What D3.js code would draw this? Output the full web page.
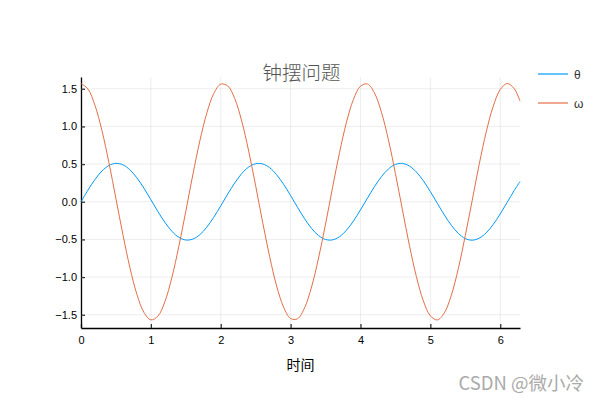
<!DOCTYPE html>
<html>
<head>
<meta charset="utf-8">
<script src="https://cdn.jsdelivr.net/npm/d3@7"></script>
<style>
  body { margin: 0; background: #fff; }
  .viz text { font-family: "Liberation Sans", "DejaVu Sans", sans-serif; }
</style>
</head>
<body>
<div class="viz"></div>
<script>
// time samples (s)
var time = [0, 0.1, 0.2, 0.3, 0.4, 0.5, 0.6, 0.7, 0.8, 0.9,
  1.0, 1.1, 1.2, 1.3, 1.4, 1.5, 1.6, 1.7, 1.8, 1.9,
  2.0, 2.1, 2.2, 2.3, 2.4, 2.5, 2.6, 2.7, 2.8, 2.9,
  3.0, 3.1, 3.2, 3.3, 3.4, 3.5, 3.6, 3.7, 3.8, 3.9,
  4.0, 4.1, 4.2, 4.3, 4.4, 4.5, 4.6, 4.7, 4.8, 4.9,
  5.0, 5.1, 5.2, 5.3, 5.4, 5.5, 5.6, 5.7, 5.8, 5.9,
  6.0, 6.1, 6.2, 6.283];

// angle θ
var theta = [0, 0.155, 0.295, 0.408, 0.481, 0.510, 0.490, 0.424, 0.317, 0.181,
  0.027, -0.129, -0.272, -0.391, -0.472, -0.508, -0.496, -0.438, -0.338, -0.206,
  -0.055, 0.102, 0.249, 0.373, 0.461, 0.505, 0.502, 0.452, 0.358, 0.231,
  0.082, -0.075, -0.225, -0.354, -0.449, -0.501, -0.506, -0.464, -0.377, -0.255,
  -0.108, 0.048, 0.200, 0.333, 0.435, 0.495, 0.509, 0.474, 0.395, 0.278,
  0.135, -0.021, -0.175, -0.312, -0.420, -0.489, -0.510, -0.483, -0.412, -0.301,
  -0.161, -0.007, 0.149, 0.268];

// angular velocity ω
var omega = [1.570, 1.496, 1.280, 0.943, 0.518, 0.042, -0.437, -0.874, -1.229, -1.468,
  -1.568, -1.519, -1.328, -1.008, -0.594, -0.127, 0.356, 0.804, 1.175, 1.436,
  1.561, 1.538, 1.370, 1.072, 0.672, 0.210, -0.273, -0.729, -1.118, -1.400,
  -1.550, -1.553, -1.408, -1.131, -0.747, -0.297, 0.188, 0.652, 1.057, 1.360,
  1.534, 1.563, 1.444, 1.188, 0.821, 0.375, -0.106, -0.578, -0.993, -1.316,
  -1.514, -1.569, -1.475, -1.242, -0.889, -0.448, 0.022, 0.502, 0.927, 1.268,
  1.489, 1.570, 1.502, 1.336];

var xTicks = [0, 1, 2, 3, 4, 5, 6];
var yTicks = [-1.5, -1.0, -0.5, 0.0, 0.5, 1.0, 1.5];
var seriesNames = ["θ", "ω"];
var seriesColors = ["#009af9", "#e26f46"];

var W = 600, H = 400;
var margin = {top: 77, right: 80, bottom: 72, left: 81},
    width = W - margin.left - margin.right,
    height = H - margin.top - margin.bottom;

var x = d3.scaleLinear().domain([0, 6.283]).range([0, width]);
var y = d3.scaleLinear().domain([-1.676, 1.656]).range([height, 0]);

var root = d3.select(".viz").append("svg")
    .attr("width", W)
    .attr("height", H);

var svg = root.append("g")
    .attr("transform", "translate(" + margin.left + "," + margin.top + ")");

// grid
svg.append("g").selectAll("line")
    .data(xTicks)
    .enter().append("line")
    .attr("x1", function(d) { return x(d); })
    .attr("x2", function(d) { return x(d); })
    .attr("y1", 0).attr("y2", height)
    .attr("stroke", "#000").attr("stroke-opacity", 0.07).attr("stroke-width", 1);

svg.append("g").selectAll("line")
    .data(yTicks)
    .enter().append("line")
    .attr("y1", function(d) { return y(d); })
    .attr("y2", function(d) { return y(d); })
    .attr("x1", 0).attr("x2", width)
    .attr("stroke", "#000").attr("stroke-opacity", 0.07).attr("stroke-width", 1);

// axes (ticks pointing inward)
var xAxis = svg.append("g")
    .attr("transform", "translate(0," + height + ")")
    .call(d3.axisBottom(x).tickValues(xTicks).tickSizeInner(-4).tickSizeOuter(0)
      .tickPadding(8).tickFormat(d3.format("d")));

var yAxis = svg.append("g")
    .call(d3.axisLeft(y).tickValues(yTicks).tickSizeInner(-4).tickSizeOuter(0)
      .tickPadding(8).tickFormat(d3.format(".1f")));

[xAxis, yAxis].forEach(function(a) {
  a.select(".domain").attr("stroke", "#000").attr("stroke-width", 1.3);
  a.selectAll(".tick line").attr("stroke", "#333").attr("stroke-width", 1.3);
  a.selectAll(".tick text").attr("font-size", 11).attr("fill", "#000")
    .style("font-family", "'Liberation Sans', sans-serif");
});
yAxis.selectAll(".tick text").attr("dx", "4");

// lines
var series = [theta, omega];
var line = d3.line()
    .x(function(d, i) { return x(time[i]); })
    .y(function(d) { return y(d); })
    .curve(d3.curveCatmullRom);

svg.selectAll(".series")
    .data(series)
    .enter().append("path")
    .attr("class", "series")
    .attr("d", line)
    .attr("fill", "none")
    .attr("stroke", function(d, i) { return seriesColors[i]; })
    .attr("stroke-width", 1);

// title
root.append("text")
    .attr("x", margin.left + width / 2 + 1)
    .attr("y", 80)
    .attr("text-anchor", "middle")
    .attr("font-size", 19.5)
    .attr("fill", "#555")
    .style("font-family", "'Noto Sans CJK SC', sans-serif")
    .style("font-weight", 300)
    .text("钟摆问题");

// x label
root.append("text")
    .attr("x", margin.left + width / 2)
    .attr("y", 370)
    .attr("text-anchor", "middle")
    .attr("font-size", 14)
    .attr("fill", "#000")
    .style("font-family", "'Noto Sans CJK SC', sans-serif")
    .text("时间");

// legend
var legend = root.append("g").attr("transform", "translate(538,74)");
var item = legend.selectAll("g")
    .data(seriesNames)
    .enter().append("g")
    .attr("transform", function(d, i) { return "translate(0," + (i * 29) + ")"; });
item.append("line")
    .attr("x1", 0).attr("x2", 30)
    .attr("stroke", function(d, i) { return seriesColors[i]; })
    .attr("stroke-width", 1.2);
item.append("text")
    .attr("x", 36).attr("y", 4.5)
    .attr("font-size", 12)
    .attr("fill", "#333")
    .text(function(d) { return d; });

// watermark
root.append("text")
    .attr("x", 584)
    .attr("y", 390)
    .attr("text-anchor", "end")
    .attr("font-size", 18.5)
    .attr("fill", "#aaa")
    .style("font-family", "'Noto Sans CJK SC', sans-serif")
    .text("CSDN @微小冷");
</script>
</body>
</html>
